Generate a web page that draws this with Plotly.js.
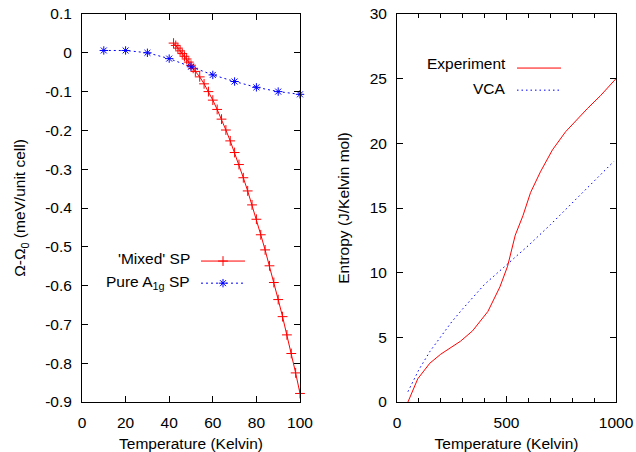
<!DOCTYPE html>
<html><head><meta charset="utf-8">
<script src="https://cdn.plot.ly/plotly-3.0.1.min.js"></script>
<style>html,body{margin:0;padding:0;background:#fff}</style>
</head><body><div id="chart" style="width:636px;height:452px"></div>
<script>
// Left panel: grand potential difference vs temperature
const mixedT = [42,43,44,45,46,47,48,49,50,51,52,54,56,58,60,62,64,66,68,70,72,74,76,78,80,82,84,86,88,90,92,94,96,98,100];
const mixedOmega = [0.025,0.019,0.012,0.005,-0.002,-0.009,-0.016,-0.024,-0.032,-0.040,-0.048,-0.062,-0.080,-0.100,-0.122,-0.146,-0.171,-0.199,-0.227,-0.257,-0.288,-0.322,-0.356,-0.392,-0.429,-0.469,-0.508,-0.549,-0.592,-0.636,-0.680,-0.727,-0.775,-0.825,-0.878];
const pureT = [10,20,30,40,50,60,70,80,90,100];
const pureOmega = [0.006,0.006,0.000,-0.015,-0.036,-0.057,-0.074,-0.089,-0.100,-0.107];

// Right panel: entropy vs temperature
const expT = [50,95,150,200,290,345,415,470,505,540,575,610,655,710,770,830,870,930,1000];
const expS = [0.0,1.8,3.0,3.7,4.7,5.5,7.0,8.9,10.5,12.9,14.4,16.2,17.8,19.5,20.9,22.0,22.7,23.7,25.0];
const vcaT = [50,75,100,150,200,250,300,400,500,600,700,800,900,990];
const vcaS = [0.8,1.7,2.5,3.9,5.1,6.2,7.2,9.1,10.6,12.1,13.7,15.4,17.1,18.6];

// Tick labels
const leftYTickVals = [0.1,0,-0.1,-0.2,-0.3,-0.4,-0.5,-0.6,-0.7,-0.8,-0.9];
const leftYTickText = ['0.1','0','-0.1','-0.2','-0.3','-0.4','-0.5','-0.6','-0.7','-0.8','-0.9'];
const rightXTickVals = [0,500,1000];
const rightXTickText = ['0','500','1000'];

// Legend labels
const leftNames = ["'Mixed' SP", "Pure A<sub>1g</sub> SP"];
const rightNames = ["Experiment", "VCA"];

const FONT = 'Liberation Sans, Arial, sans-serif';
const FS = 15.5;
const W = 636, H = 452, T = 14, B = 50;
const PH = H - T - B;
const px = v => v / W;
const py = v => (H - B - v) / PH;

const axisCommon = {
  showline: true, linecolor: 'black', linewidth: 1, mirror: 'ticks',
  ticks: 'inside', ticklen: 6, tickcolor: 'black', tickwidth: 1,
  showgrid: false, zeroline: false, ticklabelstandoff: 6,
  tickfont: {family: FONT, size: FS, color: 'black'}
};

const traces = [
  {x: mixedT, y: mixedOmega, xaxis: 'x', yaxis: 'y', mode: 'lines+markers', name: '',
   legend: 'legend', cliponaxis: false,
   line: {color: '#ff0000', width: 1},
   marker: {symbol: 'cross-thin-open', size: 7, color: '#ff0000', line: {color: '#ff0000', width: 1}}},
  {x: pureT, y: pureOmega, xaxis: 'x', yaxis: 'y', mode: 'lines+markers', name: '',
   legend: 'legend', cliponaxis: false,
   line: {color: '#0000ff', width: 1, dash: '2px,3px'},
   marker: {symbol: 'asterisk-open', size: 7, color: '#0000ff', line: {color: '#0000ff', width: 1}}},
  {x: expT, y: expS, xaxis: 'x2', yaxis: 'y2', mode: 'lines', name: '',
   legend: 'legend2', cliponaxis: false,
   line: {color: '#ff0000', width: 1}},
  {x: vcaT, y: vcaS, xaxis: 'x2', yaxis: 'y2', mode: 'lines', name: '',
   legend: 'legend2', cliponaxis: false,
   line: {color: '#0000ff', width: 1, dash: '1.5px,3px'}}
];

const legendCommon = {
  xanchor: 'left', yanchor: 'top', bgcolor: 'rgba(0,0,0,0)', borderwidth: 0,
  itemwidth: 44, tracegroupgap: 0, font: {family: FONT, size: 14.7, color: 'black'}
};

const ann = (txt, x, y) => ({text: txt, xref: 'paper', yref: 'paper', x: px(x), y: py(y),
  xanchor: 'right', yanchor: 'middle', showarrow: false,
  font: {family: FONT, size: FS, color: 'black'}});

const layout = {
  width: W, height: H,
  margin: {l: 0, r: 0, t: T, b: B},
  paper_bgcolor: 'white', plot_bgcolor: 'white',
  font: {family: FONT, size: FS, color: 'black'},
  showlegend: true,
  xaxis: Object.assign({}, axisCommon, {
    domain: [px(82), px(300)], range: [0, 100], tick0: 0, dtick: 20, anchor: 'y',
    title: {text: 'Temperature (Kelvin)', standoff: 8, font: {family: FONT, size: FS}}
  }),
  yaxis: Object.assign({}, axisCommon, {
    domain: [0, 1], range: [-0.9, 0.1], tickmode: 'array', tickvals: leftYTickVals, ticktext: leftYTickText,
    anchor: 'x',
    title: {text: 'Ω-Ω<sub>0</sub> (meV/unit cell)', standoff: 15, font: {family: FONT, size: FS}}
  }),
  xaxis2: Object.assign({}, axisCommon, {
    domain: [px(397), px(616)], range: [0, 1000], tickmode: 'array', tickvals: rightXTickVals, ticktext: rightXTickText,
    anchor: 'y2',
    minor: {dtick: 100, tick0: 0, ticks: 'inside', ticklen: 4, tickcolor: 'black', tickwidth: 1, showgrid: false},
    title: {text: 'Temperature (Kelvin)', standoff: 8, font: {family: FONT, size: FS}}
  }),
  yaxis2: Object.assign({}, axisCommon, {
    domain: [0, 1], range: [0, 30], tick0: 0, dtick: 5, anchor: 'x2',
    title: {text: 'Entropy (J/Kelvin mol)', standoff: 16, font: {family: FONT, size: FS}}
  }),
  legend: Object.assign({}, legendCommon, {x: px(196), y: py(245)}),
  legend2: Object.assign({}, legendCommon, {x: px(512), y: py(52)}),
  annotations: [
    ann(leftNames[0], 192, 258), ann(leftNames[1], 192, 282),
    ann(rightNames[0], 508, 64), ann(rightNames[1], 508, 88)
  ]
};

Plotly.newPlot('chart', traces, layout, {displayModeBar: false, staticPlot: true});
</script>
</body></html>
